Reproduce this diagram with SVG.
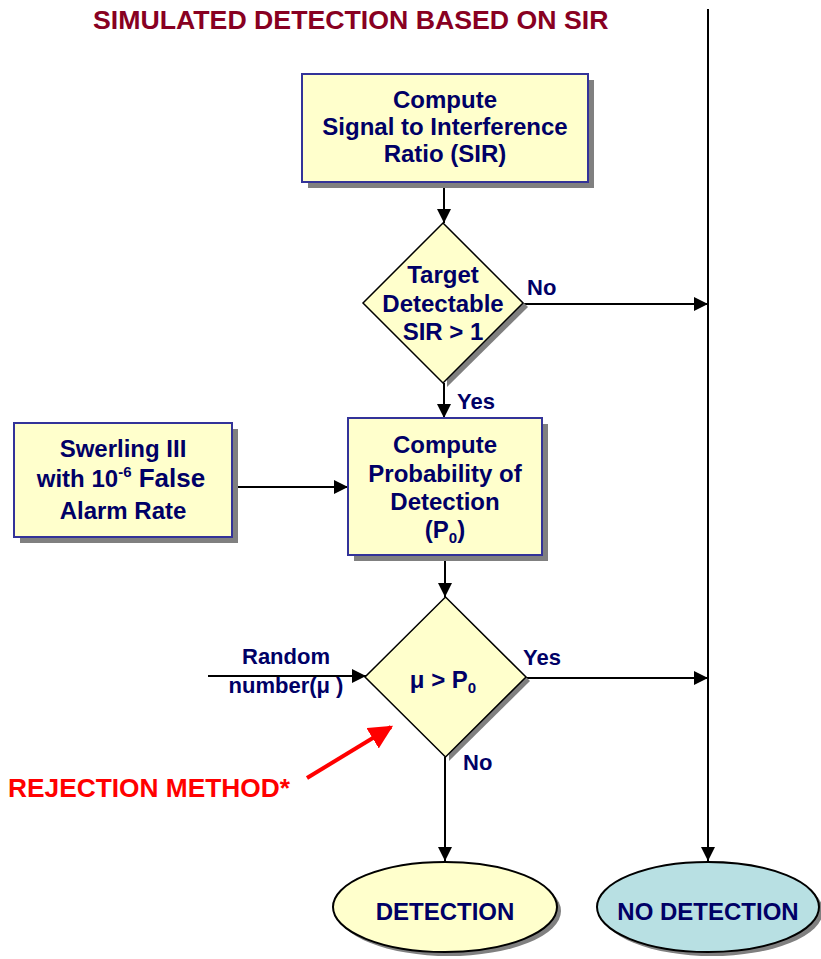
<svg xmlns="http://www.w3.org/2000/svg" width="821" height="959" viewBox="0 0 821 959">
  <style>
    text { font-family: "Liberation Sans", Arial, sans-serif; font-weight: bold; }
    .lbl { fill: #000066; font-size: 24px; text-anchor: middle; }
    .tag { fill: #000066; font-size: 22px; }
    .box { fill: #FFFFCC; stroke: #333399; stroke-width: 2; }
    .dia { fill: #FFFFCC; stroke: #000000; stroke-width: 1.5; }
    .shadow { fill: #808080; }
    .wire { stroke: #000000; stroke-width: 2; fill: none; marker-end: url(#arrow); }
  </style>
  <defs>
    <marker id="arrow" viewBox="0 0 14 14" refX="14" refY="7" markerWidth="14" markerHeight="14" markerUnits="userSpaceOnUse" orient="auto">
      <path d="M0,0 L14,7 L0,14 Z" fill="#000000"/>
    </marker>
    <marker id="redArrow" viewBox="0 0 10 10" refX="9" refY="5" markerWidth="6" markerHeight="6" orient="auto">
      <path d="M0,0 L10,5 L0,10 Z" fill="#FF0000"/>
    </marker>
  </defs>

  <rect width="821" height="959" fill="#FFFFFF"/>

  <text x="93" y="29" font-size="26.7" fill="#880022">SIMULATED DETECTION BASED ON SIR</text>

  <!-- connectors -->
  <g id="connectors">
    <line class="wire" x1="708" y1="9" x2="708" y2="861"/>
    <line class="wire" x1="444" y1="183" x2="444" y2="223"/>
    <line class="wire" x1="524" y1="304" x2="708" y2="304"/>
    <line class="wire" x1="444" y1="383" x2="444" y2="418"/>
    <line class="wire" x1="238" y1="487" x2="348" y2="487"/>
    <line class="wire" x1="445" y1="556" x2="445" y2="597"/>
    <line class="wire" x1="208" y1="676" x2="366" y2="676"/>
    <line class="wire" x1="526" y1="678" x2="708" y2="678"/>
    <line class="wire" x1="445" y1="757" x2="445" y2="861"/>
    <line x1="307" y1="778" x2="391" y2="727" stroke="#FF0000" stroke-width="4" marker-end="url(#redArrow)"/>
    <text class="tag" x="527" y="295">No</text>
    <text class="tag" x="457" y="409">Yes</text>
    <text class="tag" x="523" y="665">Yes</text>
    <text class="tag" x="463" y="770">No</text>
    <text class="tag" x="286" y="664" text-anchor="middle">Random</text>
    <text class="tag" x="286" y="693" text-anchor="middle">number(μ )</text>
  </g>

  <g id="sir-box">
    <rect class="shadow" x="308" y="80" width="286" height="108"/>
    <rect class="box" x="302" y="74" width="286" height="108"/>
    <text class="lbl" x="445" y="108">Compute</text>
    <text class="lbl" x="445" y="135">Signal to Interference</text>
    <text class="lbl" x="445" y="162">Ratio (SIR)</text>
  </g>

  <g id="detectable-decision">
    <path class="shadow" d="M447,227 L528,307 L447,387 Z"/>
    <path class="dia" d="M443,223 L523,303 L443,383 L363,303 Z"/>
    <text class="lbl" x="443" y="283">Target</text>
    <text class="lbl" x="443" y="312">Detectable</text>
    <text class="lbl" x="443" y="340">SIR &gt; 1</text>
  </g>

  <g id="swerling-box">
    <rect class="shadow" x="20" y="429" width="218" height="114"/>
    <rect class="box" x="14" y="423" width="218" height="114"/>
    <text class="lbl" x="123" y="457">Swerling III</text>
    <text class="lbl" x="121" y="487">with 10<tspan font-size="15" dy="-10">-6</tspan><tspan font-size="26" dy="10"> False</tspan></text>
    <text class="lbl" x="123" y="519" font-size="27.5">Alarm Rate</text>
  </g>

  <g id="pd-box">
    <rect class="shadow" x="354" y="424" width="194" height="137"/>
    <rect class="box" x="348" y="418" width="194" height="137"/>
    <text class="lbl" x="445" y="453">Compute</text>
    <text class="lbl" x="445" y="482">Probability of</text>
    <text class="lbl" x="445" y="510">Detection</text>
    <text class="lbl" x="445" y="538">(P<tspan font-size="15" dy="5">0</tspan><tspan dy="-5">)</tspan></text>
  </g>

  <g id="rejection-decision">
    <path class="shadow" d="M449,601 L530,681 L449,761 Z"/>
    <path class="dia" d="M445.5,597 L526,677 L445.5,757 L365,677 Z"/>
    <text class="lbl" x="443" y="688">μ &gt; P<tspan font-size="15" dy="5">0</tspan></text>
  </g>

  <g id="rejection-note">
    <text x="8" y="797" font-size="26.3" fill="#FF0000">REJECTION METHOD*</text>
  </g>

  <g id="detection">
    <ellipse class="shadow" cx="449" cy="911" rx="112" ry="45"/>
    <ellipse cx="445" cy="907" rx="112" ry="45" fill="#FFFFCC" stroke="#000000" stroke-width="2"/>
    <text class="lbl" x="445" y="920" font-size="27">DETECTION</text>
  </g>

  <g id="no-detection">
    <ellipse class="shadow" cx="712" cy="911" rx="111" ry="45"/>
    <ellipse cx="708" cy="907" rx="111" ry="45" fill="#B8E0E3" stroke="#000000" stroke-width="2"/>
    <text class="lbl" x="708" y="920">NO DETECTION</text>
  </g>
</svg>
